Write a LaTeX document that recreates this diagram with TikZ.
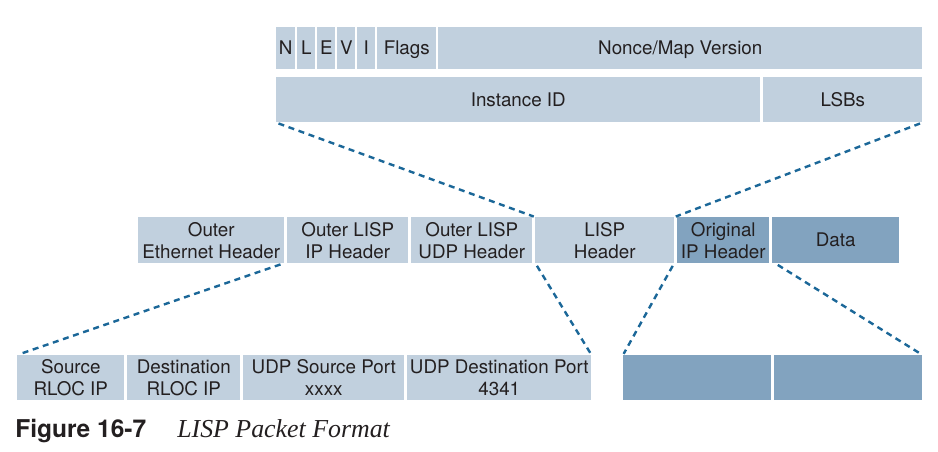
\documentclass[tikz,border=0pt]{standalone}
\usepackage{fontspec}
\setmainfont{TeX Gyre Heros}
\newfontfamily\capserif{Liberation Serif}
\definecolor{lispl}{RGB}{193,208,222}
\definecolor{lispd}{RGB}{130,163,191}
\definecolor{lispdash}{RGB}{27,103,152}
\definecolor{lisptxt}{RGB}{35,31,32}
\newcommand{\pxu}{0.75pt}

\begin{document}
\begin{tikzpicture}[x=0.75pt, y=-0.75pt,
  fld/.style={rectangle, fill=lispl, inner sep=0pt, anchor=north west,
              align=center, text=lisptxt, font=\fontsize{14.1}{16.5}\selectfont},
  fldd/.style={fld, fill=lispd},
  sline/.style={text height=10pt, text depth=0pt},
  bx/.style 2 args={minimum width=#1*\pxu, minimum height=#2*\pxu},
  zoomln/.style={draw=lispdash, line width=1.8pt, dash pattern=on 4.5pt off 3.5pt,
                 shorten <=2pt, shorten >=1pt}
]
\useasboundingbox (0,0) rectangle (938,451);

% LISP header fields
\node[fld, sline, bx={19}{42}]  (nbit)  at (276,27) {N};
\node[fld, sline, bx={18}{42}]  (lbit)  at (297,27) {L};
\node[fld, sline, bx={18}{42}]  (ebit)  at (317,27) {E};
\node[fld, sline, bx={18}{42}]  (vbit)  at (337,27) {V};
\node[fld, sline, bx={18}{42}]  (ibit)  at (357,27) {I};
\node[fld, sline, bx={59}{42}]  (flags) at (377,27) {Flags};
\node[fld, sline, bx={484}{42}] (nonce) at (438,27) {Nonce/Map Version};
\node[fld, sline, bx={484}{45}] (iid)   at (276,77) {Instance ID};
\node[fld, sline, bx={159}{45}] (lsb)   at (763,77) {LSBs};

% Encapsulated packet
\node[fld,  bx={146}{46}]        (eth)  at (138,217) {Outer\\Ethernet Header};
\node[fld,  bx={121}{46}]        (oip)  at (287,217) {Outer LISP\\IP Header};
\node[fld,  bx={121}{46}]        (oudp) at (411,217) {Outer LISP\\UDP Header};
\node[fld,  bx={139}{46}]        (lisp) at (535,217) {LISP\\Header};
\node[fldd, bx={92}{46}]         (orig) at (677,217) {Original\\IP Header};
\node[fldd, sline, bx={127}{46}] (data) at (772,217) {Data};

% Outer IP / UDP fields
\node[fld,  bx={107}{45}] (src)   at (17,355)  {Source\\RLOC IP};
\node[fld,  bx={113}{45}] (dst)   at (127,355) {Destination\\RLOC IP};
\node[fld,  bx={161}{45}] (sport) at (243,355) {UDP Source Port\\xxxx};
\node[fld,  bx={184}{45}] (dport) at (407,355) {UDP Destination Port\\4341};
\node[fldd, bx={148}{45}] (ipa)   at (623,355) {};
\node[fldd, bx={148}{45}] (ipb)   at (774,355) {};

% Zoom lines
\draw[zoomln] (iid.south west)  -- (lisp.north west);
\draw[zoomln] (lsb.south east)  -- (lisp.north east);
\draw[zoomln] ([xshift=-4*\pxu]oip.south west) -- (src.north west);
\draw[zoomln] ([xshift=3*\pxu]oudp.south east) -- (dport.north east);
\draw[zoomln] ([xshift=-3*\pxu]orig.south west) -- (ipa.north west);
\draw[zoomln] ([xshift=6*\pxu]orig.south east) -- (ipb.north east);

% Caption
\node[anchor=base west, inner sep=0pt, text=lisptxt,
      font=\fontsize{18.4}{20}\selectfont\bfseries] (fignum) at (15,437) {Figure 16-7};
\node[anchor=base west, inner sep=0pt, text=lisptxt,
      font=\capserif\itshape\fontsize{19.4}{22}\selectfont] (figttl) at (177,437) {LISP Packet Format};
\end{tikzpicture}
\end{document}
